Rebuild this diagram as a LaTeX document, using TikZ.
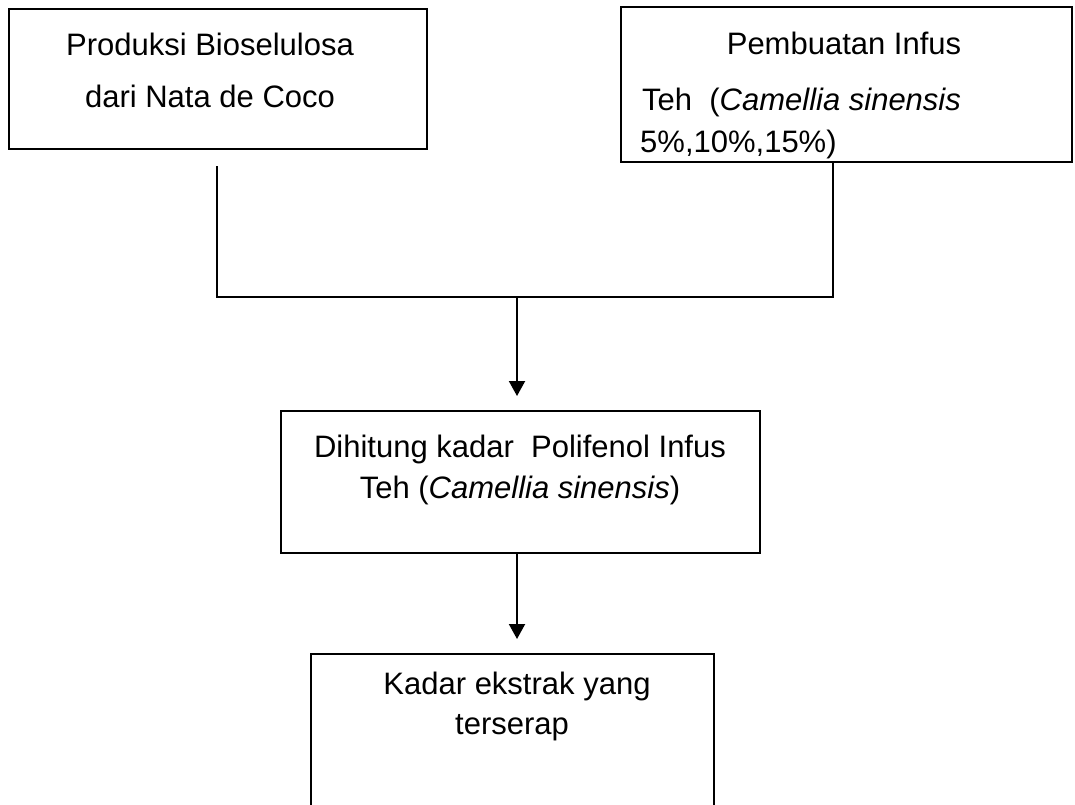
\documentclass[tikz,border=0pt]{standalone}
\usepackage{fontspec}
\setmainfont{Liberation Sans}
\usetikzlibrary{arrows.meta,positioning}

\tikzset{
  stepbox/.style={draw, rectangle, line width=2pt, inner sep=0pt},
  txt/.style={font=\fontsize{31}{31}\selectfont, inner sep=0pt},
  link/.style={line width=2pt},
  flow/.style={line width=2pt, -{Triangle[width=16pt,length=15pt]}}
}

\begin{document}
\begin{tikzpicture}[x=1pt,y=-1pt]
          \clip (0,0) rectangle (1075,804);
          % boxes
          \node[stepbox, minimum width=418pt, minimum height=140pt] (prod) at (218,79) {};
          \node[stepbox, minimum width=451pt, minimum height=155pt] (infus) at (846.5,84.5) {};
          \node[stepbox, minimum width=479pt, minimum height=142pt] (hitung) at (520.5,482) {};
          \node[stepbox, minimum width=403pt, minimum height=196pt] (kadar) at (512.5,752) {};
          % texts
          \node[txt, anchor=base] (prod1) at (210,55) {Produksi Bioselulosa};
          \node[txt, anchor=base] (prod2) at (210,107) {dari Nata de Coco};
          \node[txt, anchor=base] (infus1) at (844,54) {Pembuatan Infus};
          \node[txt, anchor=base west] (infus2) at (642,110) {Teh\ \ (\textit{Camellia sinensis}};
          \node[txt, anchor=base west] (infus3) at (640,152) {5\%,10\%,15\%)};
          \node[txt, anchor=base] (hitung1) at (520,457) {Dihitung kadar\ \ Polifenol Infus};
          \node[txt, anchor=base] (hitung2) at (520,498) {Teh (\textit{Camellia sinensis})};
          \node[txt, anchor=base] (kadar1) at (517,694) {Kadar ekstrak yang};
          \node[txt, anchor=base] (kadar2) at (512,734) {terserap};
          % connectors
          \coordinate (split) at (517,297);
          \coordinate (top3) at ([yshift=14pt]hitung.north);
          \coordinate (top4) at ([yshift=14pt]kadar.north);
          \draw[link] ([xshift=-1pt,yshift=-16pt]prod.south) |- (split) -| ([xshift=-13.5pt]infus.south);
          \draw[flow] (split) -- (split |- top3);
          \draw[flow] (split |- hitung.south) -- (split |- top4);
\end{tikzpicture}
\end{document}
